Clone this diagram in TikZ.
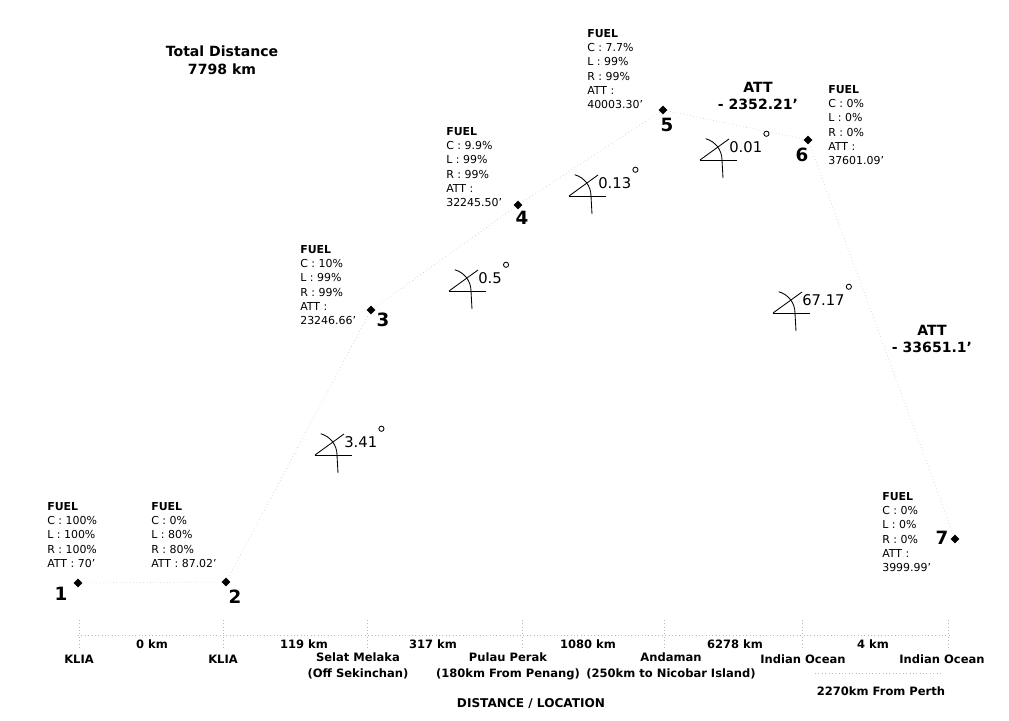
\documentclass[tikz,border=0pt]{standalone}
\usepackage{fontspec}
\setmainfont{DejaVu Sans}
\usepackage{tikz}
\usetikzlibrary{shapes.geometric, positioning, calc}

% angle mark: name, vertex, value
\newcommand{\inclmark}[3]{%
  \coordinate (#1) at #2;
  \draw[angline] (#1) -- ++(37,0);
  \draw[angline] (#1) -- ++(29,21);
  \draw[angline] (#1) ++(75:22) arc[start angle=75, end angle=0, radius=22] -- ++(1,-18);
  \node[angtxt, anchor=base west] (#1txt) at ($(#1)+(29,7)$) {#3};
  \draw[angline] ($(#1txt.north east)+(4,8)$) circle[radius=2.6];
}

\begin{document}
\begin{tikzpicture}[
    x=0.025cm, y=0.025cm,
    pt/.style={
        diamond, fill=black, inner sep=0pt,
        minimum size=0.22cm
    },
    num/.style={font=\fontsize{13}{13}\selectfont\bfseries, inner sep=0pt},
    fuel/.style={
        font=\fontsize{7.8}{10.2}\selectfont,
        align=left, anchor=north west, inner sep=0pt
    },
    att/.style={font=\fontsize{10}{12.5}\selectfont\bfseries, align=center, inner sep=0pt},
    loc/.style={font=\fontsize{8.2}{11.5}\selectfont\bfseries, align=center, inner sep=0pt},
    track/.style={draw=gray!55, dotted, line width=0.4pt},
    angline/.style={draw=black, line width=0.6pt},
    angtxt/.style={font=\fontsize{10.5}{10.5}\selectfont, inner sep=0pt},
]
\useasboundingbox (0,0) rectangle (1009,-721);

% Titolo
\node[font=\fontsize{10}{13}\selectfont\bfseries, align=center] (total) at (222,-60)
    {Total Distance\\7798 km};

% Punti di rotta
\node[pt] (p1) at (78,-583)  {};
\node[pt] (p2) at (226,-582) {};
\node[pt] (p3) at (371,-310) {};
\node[pt] (p4) at (518,-205) {};
\node[pt] (p5) at (663,-110) {};
\node[pt] (p6) at (808,-140) {};
\node[pt] (p7) at (955,-539) {};

% Numeri
\node[num] (n1) at (61,-594)  {1};
\node[num] (n2) at (235,-597) {2};
\node[num] (n3) at (383,-320) {3};
\node[num] (n4) at (522,-218) {4};
\node[num] (n5) at (667,-125) {5};
\node[num] (n6) at (802,-155) {6};
\node[num] (n7) at (942,-538) {7};

% Traccia
\draw[track] (p1) -- (p2);
\draw[track] (p2) -- (p3);
\draw[track] (p3) -- (p4);
\draw[track] (p4) -- (p5);
\draw[track] (p5) -- (p6);
\draw[track] (p6) -- (p7);

%% Carburante
\node[fuel] (f1) at (47,-502)
    {\textbf{FUEL}\\C : 100\%\\L : 100\%\\R : 100\%\\ATT : 70'};
\node[fuel] (f2) at (151,-502)
    {\textbf{FUEL}\\C : 0\%\\L : 80\%\\R : 80\%\\ATT : 87.02'};
\node[fuel] (f3) at (300,-245)
    {\textbf{FUEL}\\C : 10\%\\L : 99\%\\R : 99\%\\ATT :\\23246.66'};
\node[fuel] (f4) at (446,-127)
    {\textbf{FUEL}\\C : 9.9\%\\L : 99\%\\R : 99\%\\ATT :\\32245.50'};
\node[fuel] (f5) at (587,-29)
    {\textbf{FUEL}\\C : 7.7\%\\L : 99\%\\R : 99\%\\ATT :\\40003.30'};
\node[fuel] (f6) at (828,-85)
    {\textbf{FUEL}\\C : 0\%\\L : 0\%\\R : 0\%\\ATT :\\37601.09'};
\node[fuel] (f7) at (882,-492)
    {\textbf{FUEL}\\C : 0\%\\L : 0\%\\R : 0\%\\ATT :\\3999.99'};

%% Variazioni di quota
\node[att] (a56) at (758,-96)  {ATT\\- 2352.21'};
\node[att] (a67) at (932,-339) {ATT\\- 33651.1'};

%% Angoli
\inclmark{g23}{(315,-455)}{3.41}
\inclmark{g34}{(449,-291)}{0.5}
\inclmark{g45}{(569,-196)}{0.13}
\inclmark{g56}{(700,-160)}{0.01}
\inclmark{g67}{(773,-313)}{67.17}

%% Asse
\draw[track] (78,-635) -- (950,-635);
\draw[track] (79,-620) -- (79,-648);
\draw[track] (223,-620) -- (223,-648);
\draw[track] (367,-620) -- (367,-648);
\draw[track] (522,-620) -- (522,-648);
\draw[track] (664,-620) -- (664,-648);
\draw[track] (802,-620) -- (802,-648);
\draw[track] (948,-620) -- (948,-648);

\node[loc] (d12) at (152,-644) {0 km};
\node[loc] (d23) at (304,-644) {119 km};
\node[loc] (d34) at (433,-644) {317 km};
\node[loc] (d45) at (588,-644) {1080 km};
\node[loc] (d56) at (735,-644) {6278 km};
\node[loc] (d67) at (873,-644) {4 km};

\node[loc] (l1) at (79,-659)  {KLIA};
\node[loc] (l2) at (223,-659) {KLIA};
\node[loc] (l3) at (358,-666) {Selat Melaka\\(Off Sekinchan)};
\node[loc] (l4) at (508,-666) {Pulau Perak\\(180km From Penang)};
\node[loc] (l5) at (671,-666) {Andaman\\(250km to Nicobar Island)};
\node[loc] (l6) at (803,-659) {Indian Ocean};
\node[loc] (l7) at (942,-659) {Indian Ocean};

\draw[track] (815,-673) -- (943,-673);
\node[loc] (perth) at (881,-691) {2270km From Perth};

\node[loc, font=\fontsize{8.6}{11}\selectfont\bfseries] (axis) at (531,-704)
    {DISTANCE / LOCATION};

\end{tikzpicture}
\end{document}
